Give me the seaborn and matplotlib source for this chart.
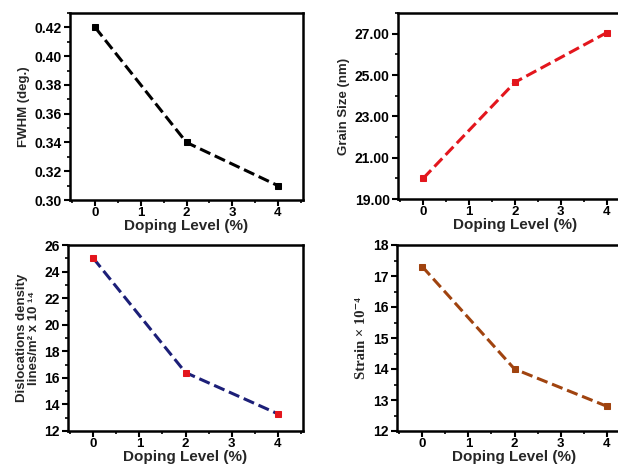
import matplotlib
matplotlib.use("Agg")
import matplotlib.pyplot as plt
import seaborn as sns
import pandas as pd
from matplotlib.ticker import MultipleLocator, FixedLocator, FormatStrFormatter

sns.set_theme(style="ticks")
plt.rcParams["font.family"] = ["Liberation Sans", "DejaVu Sans"]

# Data
doping = [0, 2, 4]
fwhm = [0.42, 0.34, 0.31]
grain_size = [20.0, 24.65, 27.05]
dislocation = [25.0, 16.4, 13.3]
strain = [17.3, 14.0, 12.8]
grain_ticks = [19.0, 21.0, 23.0, 25.0, 27.0]

W, H = 618, 466
fig = plt.figure(figsize=(W / 100, H / 100), dpi=100)


def px_axes(left, top, right, bottom):
    return fig.add_axes([left / W, 1 - bottom / H, (right - left) / W, (bottom - top) / H])


def style(ax, ylim, ymajor, yminor, fmt=None):
    ax.set_xlim(-0.55, 4.55)
    ax.set_ylim(*ylim)
    ax.xaxis.set_major_locator(MultipleLocator(1))
    ax.xaxis.set_minor_locator(MultipleLocator(0.5))
    if isinstance(ymajor, list):
        ax.yaxis.set_major_locator(FixedLocator(ymajor))
    else:
        ax.yaxis.set_major_locator(MultipleLocator(ymajor))
    ax.yaxis.set_minor_locator(MultipleLocator(yminor))
    if fmt:
        ax.yaxis.set_major_formatter(FormatStrFormatter(fmt))
    for s in ax.spines.values():
        s.set_linewidth(1.8)
        s.set_color("black")
    ax.tick_params(which="major", direction="out", length=4, width=1.5,
                   labelsize=10, pad=2, colors="black")
    ax.tick_params(axis="x", which="major", labelsize=9.5, pad=1)
    ax.tick_params(which="minor", direction="out", length=2.5, width=1.2, colors="black")
    for lab in ax.get_xticklabels() + ax.get_yticklabels():
        lab.set_fontweight("bold")
    ax.set_xlabel("Doping Level (%)", fontsize=11, fontweight="bold", labelpad=0)
    ax.grid(False)


def draw(ax, y, line_color, marker_color):
    df = pd.DataFrame({"doping": doping, "value": y})
    sns.lineplot(data=df, x="doping", y="value", ax=ax, color=line_color,
                 linestyle="--", linewidth=2.2, marker="s", markersize=5,
                 markerfacecolor=marker_color, markeredgecolor=marker_color,
                 zorder=3)


# FWHM
ax1 = px_axes(70, 13, 303, 200)
draw(ax1, fwhm, "black", "black")
style(ax1, (0.30, 0.43), 0.02, 0.01, "%.2f")
ax1.set_ylabel("FWHM (deg.)", fontsize=9.5, fontweight="bold", labelpad=3)

# Grain size
ax2 = px_axes(398, 13, 632, 199)
draw(ax2, grain_size, "#e3161d", "#e3161d")
style(ax2, (19.0, 28.0), grain_ticks, 1.0, "%.2f")
ax2.set_ylabel("Grain Size (nm)", fontsize=9.5, fontweight="bold", labelpad=3)

# Dislocation density
ax3 = px_axes(68, 245, 303, 431)
draw(ax3, dislocation, "#1c1f78", "#e3161d")
style(ax3, (12, 26), 2, 1)
ax3.set_ylabel("Dislocations density\nlines/m\u00b2 x 10 \u00b9\u2074", fontsize=9.5,
               fontweight="bold", labelpad=3, linespacing=1.0)

# Strain
ax4 = px_axes(397, 245, 632, 431)
draw(ax4, strain, "#a0430f", "#a0430f")
style(ax4, (12, 18), 1, 0.5)
ax4.set_ylabel("Strain \u00d7 10\u207b\u2074", fontsize=10.5, fontweight="bold",
               family=["Liberation Serif", "DejaVu Serif"], labelpad=4)

fig.savefig("out.png", dpi=100)
